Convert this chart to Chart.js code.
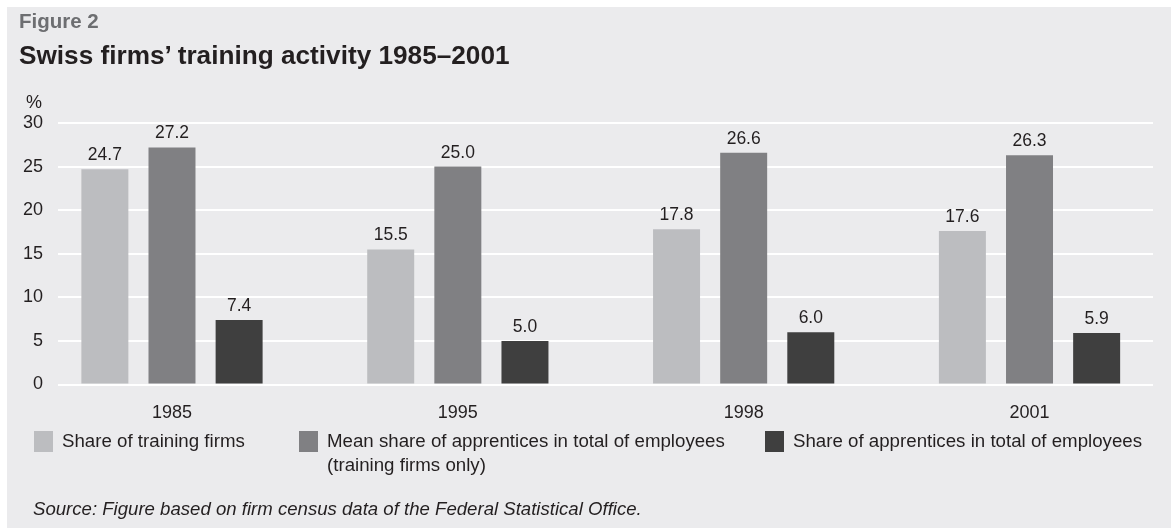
<!DOCTYPE html>
<html>
<head>
<meta charset="utf-8">
<script src="https://cdn.jsdelivr.net/npm/chart.js@4.4.1/dist/chart.umd.min.js"></script>
<style>
  html, body { margin: 0; padding: 0; background: #fff; }
  body { width: 1171px; height: 529px; position: relative; overflow: hidden;
         font-family: "Liberation Sans", Arial, sans-serif; color: #231f20; }
  #panel { position: absolute; left: 7px; top: 7px; width: 1164px; height: 521px; background: #ebebed; }
  #wrap { position: absolute; left: 0; top: 0; width: 1171px; height: 529px; }
  .t { position: absolute; white-space: nowrap; }
  #fig { left: 19px; top: 9px; font-size: 20.5px; font-weight: bold; color: #6d6e71; }
  #title { left: 19px; top: 40px; font-size: 26.2px; font-weight: bold; color: #231f20; }
  #pct { left: 26px; top: 92px; font-size: 18px; }
  .sw { position: absolute; width: 19px; height: 21px; }
  .lg { position: absolute; font-size: 18.7px; line-height: 24px; }
  #src { left: 33px; top: 498px; font-size: 18.6px; font-style: italic; }
</style>
</head>
<body>
<div id="panel"></div>
<div id="wrap"><canvas id="chart" width="1171" height="529"></canvas></div>
<div class="t" id="fig">Figure 2</div>
<div class="t" id="title">Swiss firms’ training activity 1985–2001</div>
<div class="t" id="pct">%</div>
<div id="legend"></div>
<div class="t" id="src">Source: Figure based on firm census data of the Federal Statistical Office.</div>
<script>
const years = ['1985', '1995', '1998', '2001'];
const trainingFirms = [24.7, 15.5, 17.8, 17.6];
const meanShareApprentices = [27.2, 25.0, 26.6, 26.3];
const shareApprentices = [7.4, 5.0, 6.0, 5.9];
const seriesNames = [
    'Share of training firms',
    'Mean share of apprentices in total of employees\n(training firms only)',
    'Share of apprentices in total of employees'
];
const colors = ['#bcbdc0', '#808083', '#3f3f3f'];
const yTicks = [0, 5, 10, 15, 20, 25, 30];

// legend below the chart (html)
const legendEl = document.getElementById('legend');
const legendX = [34, 299, 765];
seriesNames.forEach((name, i) => {
    const sw = document.createElement('div');
    sw.className = 'sw';
    sw.style.left = legendX[i] + 'px';
    sw.style.top = '431px';
    sw.style.background = colors[i];
    legendEl.appendChild(sw);
    const lab = document.createElement('div');
    lab.className = 'lg';
    lab.style.left = (legendX[i] + 28) + 'px';
    lab.style.top = '429px';
    lab.innerHTML = name.split('\n').join('<br>');
    legendEl.appendChild(lab);
});

const toPoints = arr => arr.map((v, i) => ({ x: i, y: v }));

// values above bars
const valueLabels = {
    id: 'valueLabels',
    afterDatasetsDraw(chart) {
        const ctx = chart.ctx;
        ctx.save();
        ctx.font = '17.5px "Liberation Sans", Arial, sans-serif';
        ctx.fillStyle = '#231f20';
        ctx.textAlign = 'center';
        ctx.textBaseline = 'bottom';
        chart.data.datasets.forEach((ds, di) => {
            chart.getDatasetMeta(di).data.forEach((bar, i) => {
                ctx.fillText(ds.data[i].y.toFixed(1), bar.x, bar.y - 5);
            });
        });
        ctx.restore();
    }
};

const ctx = document.getElementById('chart').getContext('2d');
const chart = new Chart(ctx, {
    type: 'bar',
    data: {
        datasets: [
            { label: seriesNames[0], data: toPoints(trainingFirms), backgroundColor: colors[0] },
            { label: seriesNames[1], data: toPoints(meanShareApprentices), backgroundColor: colors[1] },
            { label: seriesNames[2], data: toPoints(shareApprentices), backgroundColor: colors[2] }
        ]
    },
    options: {
        responsive: false,
        animation: false,
        layout: { padding: { left: 0, right: 18, top: 123, bottom: 100 } },
        categoryPercentage: 0.7045,
        barPercentage: 0.70,
        scales: {
            x: {
                type: 'linear',
                min: -0.3988,
                max: 3.432,
                offset: false,
                grid: { display: false },
                border: { display: false },
                afterBuildTicks: s => { s.ticks = years.map((y, i) => ({ value: i })); },
                afterFit: s => { s.height = 44.5; },
                ticks: {
                    padding: 10,
                    color: '#231f20',
                    font: { family: '"Liberation Sans", Arial, sans-serif', size: 18 },
                    callback: v => years[v]
                }
            },
            y: {
                min: 0,
                max: 30,
                afterBuildTicks: s => { s.ticks = yTicks.map(v => ({ value: v })); },
                afterFit: s => { s.width = 58; },
                grid: { color: '#ffffff', lineWidth: 2, drawTicks: false },
                border: { display: false },
                ticks: {
                    padding: 15,
                    color: '#231f20',
                    font: { family: '"Liberation Sans", Arial, sans-serif', size: 18 }
                }
            }
        },
        plugins: {
            legend: { display: false },
            tooltip: { enabled: false }
        }
    },
    plugins: [valueLabels]
});
</script>
</body>
</html>
